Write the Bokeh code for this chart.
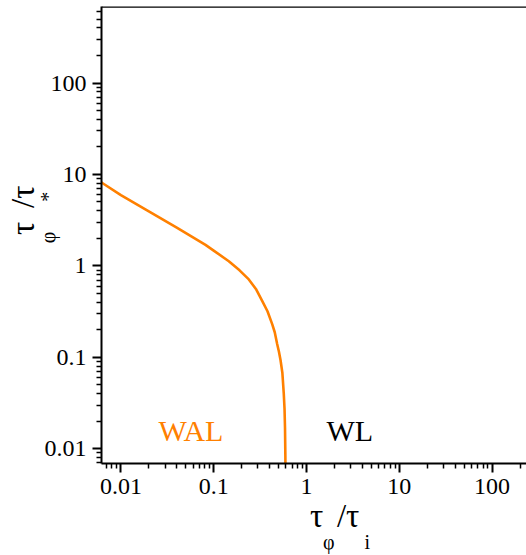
from bokeh.plotting import figure
from bokeh.models import FixedTicker, Label, Span, ColumnDataSource, Range1d, LogAxis
from bokeh.embed import file_html
from bokeh.resources import INLINE

# ---- data ----
x_ratio = [0.006, 0.0063, 0.01, 0.02, 0.04, 0.0816, 0.1, 0.1455, 0.19, 0.239,
           0.285, 0.333, 0.38, 0.427, 0.455, 0.483, 0.505, 0.525, 0.55, 0.569,
           0.58, 0.587, 0.592, 0.594, 0.595]
y_ratio = [8.3, 8.07, 5.94, 3.95, 2.62, 1.70, 1.47, 1.125, 0.895, 0.711,
           0.56, 0.415, 0.319, 0.231, 0.188, 0.140, 0.115, 0.0935, 0.0673, 0.0404,
           0.0274, 0.017, 0.0085, 0.0055, 0.004]

x_major = [0.01, 0.1, 1, 10, 100]
x_labels = ["0.01", "0.1", "1", "10", "100"]
y_major = [0.01, 0.1, 1, 10, 100]
y_labels = ["0.01", "0.1", "1", "10", "100"]
minor_mult = [2, 3, 4, 5, 6, 7, 8, 9]
decades = [0.001, 0.01, 0.1, 1, 10, 100]

# axis titles: tau_phi / tau_i  and  tau_phi / tau_*  (main line + subscript line)
NB = "\u00a0"
x_title_main = NB * 5 + "τ" + NB + "\u2006" + "/τ"
x_title_sub = NB * 13 + "φ" + NB * 6 + "i"
y_title_main = NB * 6 + "τ" + NB + "\u2006" + "/τ"
y_title_sub = NB * 7 + "φ" + NB * 6 + "*"

region_labels = ["WAL", "WL"]
region_x = [0.0254, 1.64]
region_y = [0.0157, 0.0157]
region_colors = ["#FF8000", "#000000"]

ORANGE = "#FF8000"
FONT = "Liberation Serif"

minor = [round(d * m, 6) for d in decades for m in minor_mult]

X_END = 235
Y_END = 687

p = figure(width=526, height=555, x_axis_type="log", y_axis_type="log",
           x_range=Range1d(0.00618, X_END), y_range=Range1d(0.0069, Y_END),
           output_backend="svg", toolbar_location=None,
           min_border_left=101, min_border_right=0, min_border_top=6,
           min_border_bottom=89)
p.outline_line_color = None
p.grid.visible = False
p.background_fill_color = "white"
p.border_fill_color = "white"

src = ColumnDataSource(dict(x=x_ratio, y=y_ratio))
p.line("x", "y", source=src, line_color=ORANGE, line_width=2.6)

p.xaxis.ticker = FixedTicker(ticks=x_major, minor_ticks=minor)
p.yaxis.ticker = FixedTicker(ticks=y_major, minor_ticks=minor)
p.xaxis.major_label_overrides = dict(zip(x_major, x_labels))
p.yaxis.major_label_overrides = dict(zip(y_major, y_labels))

for ax in (p.xaxis[0], p.yaxis[0]):
    ax.axis_line_width = 2
    ax.axis_line_color = "black"
    ax.major_tick_line_width = 2
    ax.minor_tick_line_width = 1.5
    ax.major_tick_in = 0
    ax.major_tick_out = 9
    ax.minor_tick_in = 0
    ax.minor_tick_out = 5
    ax.major_label_text_font = FONT
    ax.major_label_text_font_size = "24px"
    ax.major_label_text_color = "black"
    ax.major_label_standoff = 6
    ax.axis_label_text_font = FONT
    ax.axis_label_text_font_style = "normal"
    ax.axis_label_text_color = "black"


def title_axis(label, size, standoff):
    a = LogAxis(ticker=FixedTicker(ticks=[], minor_ticks=[]))
    a.axis_line_color = None
    a.major_tick_line_color = None
    a.minor_tick_line_color = None
    a.major_tick_out = 0
    a.major_tick_in = 0
    a.minor_tick_out = 0
    a.minor_tick_in = 0
    a.major_label_text_font_size = "0px"
    a.axis_label = label
    a.axis_label_text_font = FONT
    a.axis_label_text_font_size = size
    a.axis_label_text_font_style = "normal"
    a.axis_label_text_color = "black"
    a.axis_label_standoff = standoff
    return a


# bottom: main line on the real axis, subscripts on an outer helper axis
p.xaxis[0].axis_label = x_title_main
p.xaxis[0].axis_label_text_font_size = "33px"
p.xaxis[0].axis_label_standoff = 1
p.add_layout(title_axis(x_title_sub, "20px", -6), "below")

# left: subscripts on the real axis, main line on an outer helper axis
p.yaxis[0].axis_label = y_title_sub
p.yaxis[0].axis_label_text_font_size = "20px"
p.yaxis[0].axis_label_standoff = -17
p.add_layout(title_axis(y_title_main, "33px", -7), "left")

# top frame line
p.add_layout(Span(location=Y_END, dimension="width", line_color="black", line_width=2.5))

# region labels
for t, xx, yy, c in zip(region_labels, region_x, region_y, region_colors):
    p.add_layout(Label(x=xx, y=yy, text=t, text_color=c, text_font=FONT,
                       text_font_size="30px", text_baseline="alphabetic",
                       text_align="left"))

open("out.html", "w").write(file_html(p, INLINE))
